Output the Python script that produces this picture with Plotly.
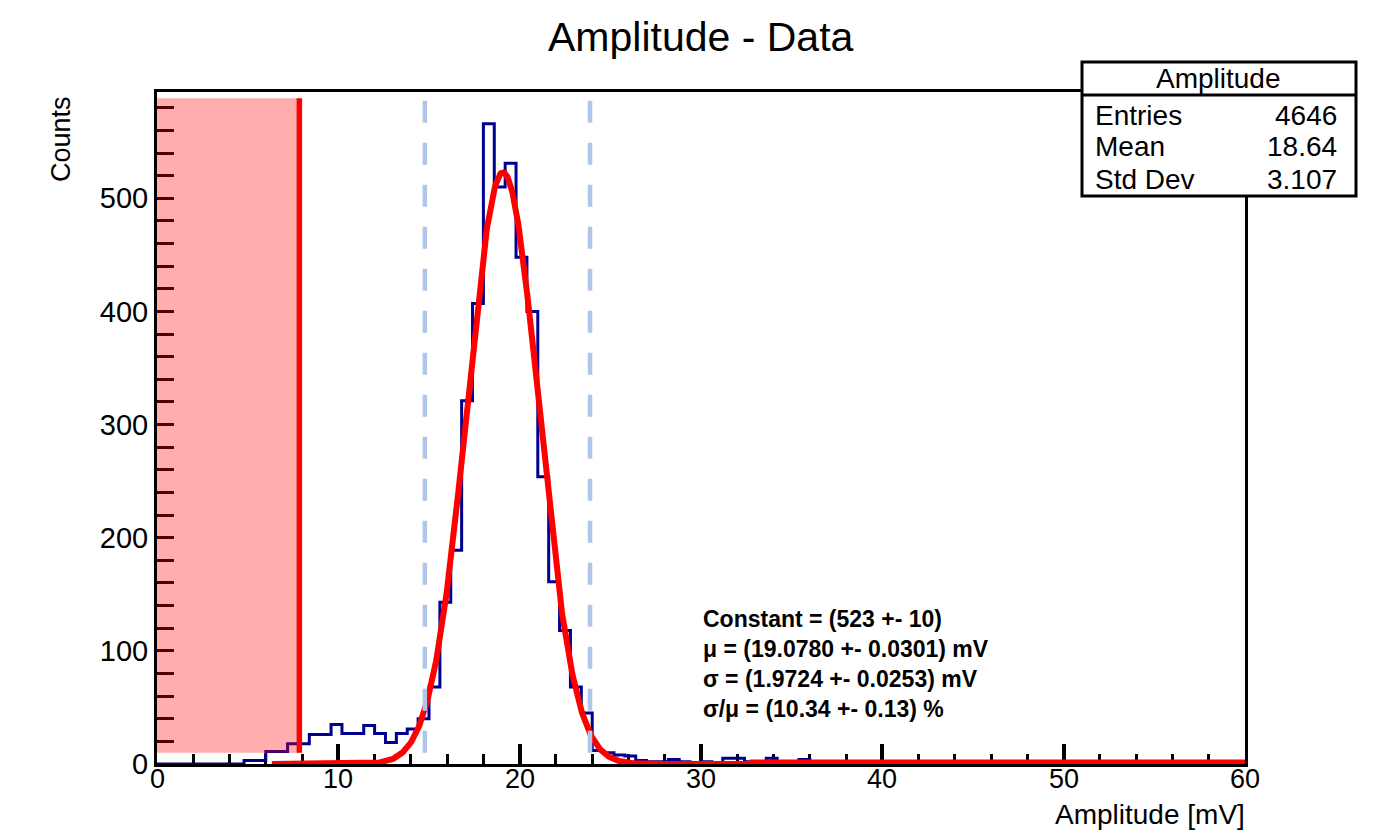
import numpy as np
import plotly.graph_objects as go

# ---------------- data ----------------
BIN_LO, BIN_HI, N_BINS = 0.0, 60.0, 100
counts = [
    0, 0, 0, 0, 0, 0, 0, 0, 3, 3,            # 0.0 - 6.0
    11, 11, 18, 18, 26, 26, 35, 27, 27, 34,   # 6.0 - 12.0
    27, 19, 27, 31, 40, 68, 143, 189, 321, 407,  # 12.0 - 18.0
    566, 510, 531, 448, 400, 254, 161, 118, 68, 45,  # 18.0 - 24.0
    12, 10, 8, 7, 3, 2, 2, 4, 2, 1,           # 24.0 - 30.0
    2, 1, 5, 5, 2, 1, 5, 2, 1, 4,             # 30.0 - 36.0
    2, 1, 1, 2, 1, 0, 1, 0, 0, 0,             # 36.0 - 42.0
    0, 0, 0, 0, 0, 0, 0, 0, 0, 0,
    0, 0, 0, 0, 0, 0, 0, 0, 0, 0,
    0, 0, 0, 0, 0, 0, 0, 0, 0, 0,
]

# Gaussian fit parameters shown on the chart
fit_const = 523.0
fit_mu = 19.0780
fit_sigma = 1.9724
fit_x_start = 6.33
fit_x_split = 32.7

# cut / window markers
cut_x = 7.85
window_lo = 14.77
window_hi = 23.88
marker_ylo = 10.0
marker_yhi = 588.5

x_tick_vals = [0, 10, 20, 30, 40, 50, 60]
x_tick_text = ["0", "10", "20", "30", "40", "50", "60"]

stats_title = "Amplitude"
stats_labels = ["Entries", "Mean", "Std Dev"]
stats_values = ["4646", "18.64", "3.107"]
fit_lines = [
    "Constant = (523 +- 10)",
    "μ = (19.0780 +- 0.0301) mV",
    "σ = (1.9724 +- 0.0253) mV",
    "σ/μ = (10.34 +- 0.13) %",
]

X_RANGE = [0, 60]
Y_RANGE = [0, 594]

# ---------------- layout geometry ----------------
W, H = 1392, 833
ML, MR, MT, MB = 157, 147, 92, 69
PW = W - ML - MR
PH = H - MT - MB
FONT = "Liberation Sans, Arial, sans-serif"


def px(x):
    return (x - ML) / PW


def py(y):
    return (H - MB - y) / PH


edges = np.linspace(BIN_LO, BIN_HI, N_BINS + 1)
hx = list(edges)
hy = list(counts) + [counts[-1]]


def gauss(x):
    return fit_const * np.exp(-0.5 * ((x - fit_mu) / fit_sigma) ** 2)


fig = go.Figure()

fig.add_trace(go.Scatter(
    x=hx, y=hy, mode="lines",
    line=dict(shape="hv", color="#000090", width=3),
    hoverinfo="skip", showlegend=False,
))

gx1 = np.linspace(fit_x_start, fit_x_split, 700)
fig.add_trace(go.Scatter(
    x=gx1, y=gauss(gx1), mode="lines",
    line=dict(color="#FF0000", width=6),
    cliponaxis=False, hoverinfo="skip", showlegend=False,
))
gx2 = np.linspace(fit_x_split, X_RANGE[1], 100)
fig.add_trace(go.Scatter(
    x=gx2, y=gauss(gx2), mode="lines",
    line=dict(color="#FF0000", width=9),
    cliponaxis=False, hoverinfo="skip", showlegend=False,
))

shapes = []
# pink cut region
shapes.append(dict(type="rect", xref="x", yref="y", x0=X_RANGE[0], x1=cut_x,
                   y0=marker_ylo, y1=marker_yhi,
                   fillcolor="rgba(255,0,0,0.32)", line=dict(width=0), layer="above"))
# red cut line
shapes.append(dict(type="line", xref="x", yref="y", x0=cut_x, x1=cut_x,
                   y0=marker_ylo, y1=marker_yhi,
                   line=dict(color="#FF0000", width=5.5), layer="above"))
# dashed window lines
for xv in (window_lo, window_hi):
    shapes.append(dict(type="line", xref="x", yref="y", x0=xv, x1=xv,
                       y0=marker_ylo, y1=marker_yhi,
                       line=dict(color="#AFC6EA", width=4.5, dash="22px,20px"),
                       layer="above"))

# stats box
bx0, bx1, by0, by1, bdiv = 1082, 1356, 62, 196, 95
shapes.append(dict(type="rect", xref="paper", yref="paper",
                   x0=px(bx0), x1=px(bx1), y0=py(by1), y1=py(by0),
                   fillcolor="white", line=dict(color="black", width=3), layer="above"))
shapes.append(dict(type="line", xref="paper", yref="paper",
                   x0=px(bx0), x1=px(bx1), y0=py(bdiv), y1=py(bdiv),
                   line=dict(color="black", width=3), layer="above"))

annotations = []
annotations.append(dict(text="Amplitude - Data", xref="paper", yref="paper",
                        x=px(701), y=py(37), xanchor="center", yanchor="middle",
                        showarrow=False, font=dict(family=FONT, size=41, color="black")))
annotations.append(dict(text=stats_title, xref="paper", yref="paper",
                        x=px(1218), y=py(78), xanchor="center", yanchor="middle",
                        showarrow=False, font=dict(family=FONT, size=28, color="black")))
row_y = [115, 146.5, 179]
for lab, val, yy in zip(stats_labels, stats_values, row_y):
    annotations.append(dict(text=lab, xref="paper", yref="paper",
                            x=px(1093), y=py(yy), xanchor="left", yanchor="middle",
                            showarrow=False, font=dict(family=FONT, size=28, color="black")))
    annotations.append(dict(text=val, xref="paper", yref="paper",
                            x=px(1339), y=py(yy), xanchor="right", yanchor="middle",
                            showarrow=False, font=dict(family=FONT, size=28, color="black")))
fit_y = [619, 649, 679, 709]
for line_txt, yy in zip(fit_lines, fit_y):
    annotations.append(dict(text="<b>" + line_txt + "</b>", xref="paper", yref="paper",
                            x=px(701), y=py(yy), xanchor="left", yanchor="middle",
                            showarrow=False, font=dict(family=FONT, size=23, color="black")))
# x tick labels
for tv, tt in zip(x_tick_vals, x_tick_text):
    annotations.append(dict(text=tt, xref="x", yref="paper",
                            x=tv, y=py(779), xanchor="center", yanchor="middle",
                            showarrow=False, font=dict(family=FONT, size=27, color="black")))
# axis titles
annotations.append(dict(text="Amplitude [mV]", xref="paper", yref="paper",
                        x=px(1247), y=py(814), xanchor="right", yanchor="middle",
                        showarrow=False, font=dict(family=FONT, size=28, color="black")))
annotations.append(dict(text="Counts", xref="paper", yref="paper",
                        x=px(61), y=py(94), xanchor="center", yanchor="top",
                        textangle=-90, showarrow=False,
                        font=dict(family=FONT, size=27, color="black")))

fig.update_layout(
    width=W, height=H,
    margin=dict(l=ML, r=MR, t=MT, b=MB, autoexpand=False),
    paper_bgcolor="white", plot_bgcolor="white",
    showlegend=False,
    shapes=shapes, annotations=annotations,
    font=dict(family=FONT, color="black"),
)

fig.update_xaxes(
    range=X_RANGE, showgrid=False, zeroline=False,
    showline=True, linecolor="black", linewidth=3, mirror=True,
    ticks="inside", ticklen=20, tickwidth=3.5, tickcolor="black",
    tick0=0, dtick=10, layer="below traces", showticklabels=False,
    minor=dict(ticks="inside", ticklen=10, tickwidth=3, tickcolor="black", dtick=2),
)
fig.update_yaxes(
    range=Y_RANGE, showgrid=False, zeroline=False,
    showline=True, linecolor="black", linewidth=3, mirror=True,
    ticks="inside", ticklen=17, tickwidth=3, tickcolor="black",
    tick0=0, dtick=100,
    minor=dict(ticks="inside", ticklen=17, tickwidth=3, tickcolor="black", dtick=20),
    tickfont=dict(family=FONT, size=29, color="black"),
)

fig.write_html("out.html")
